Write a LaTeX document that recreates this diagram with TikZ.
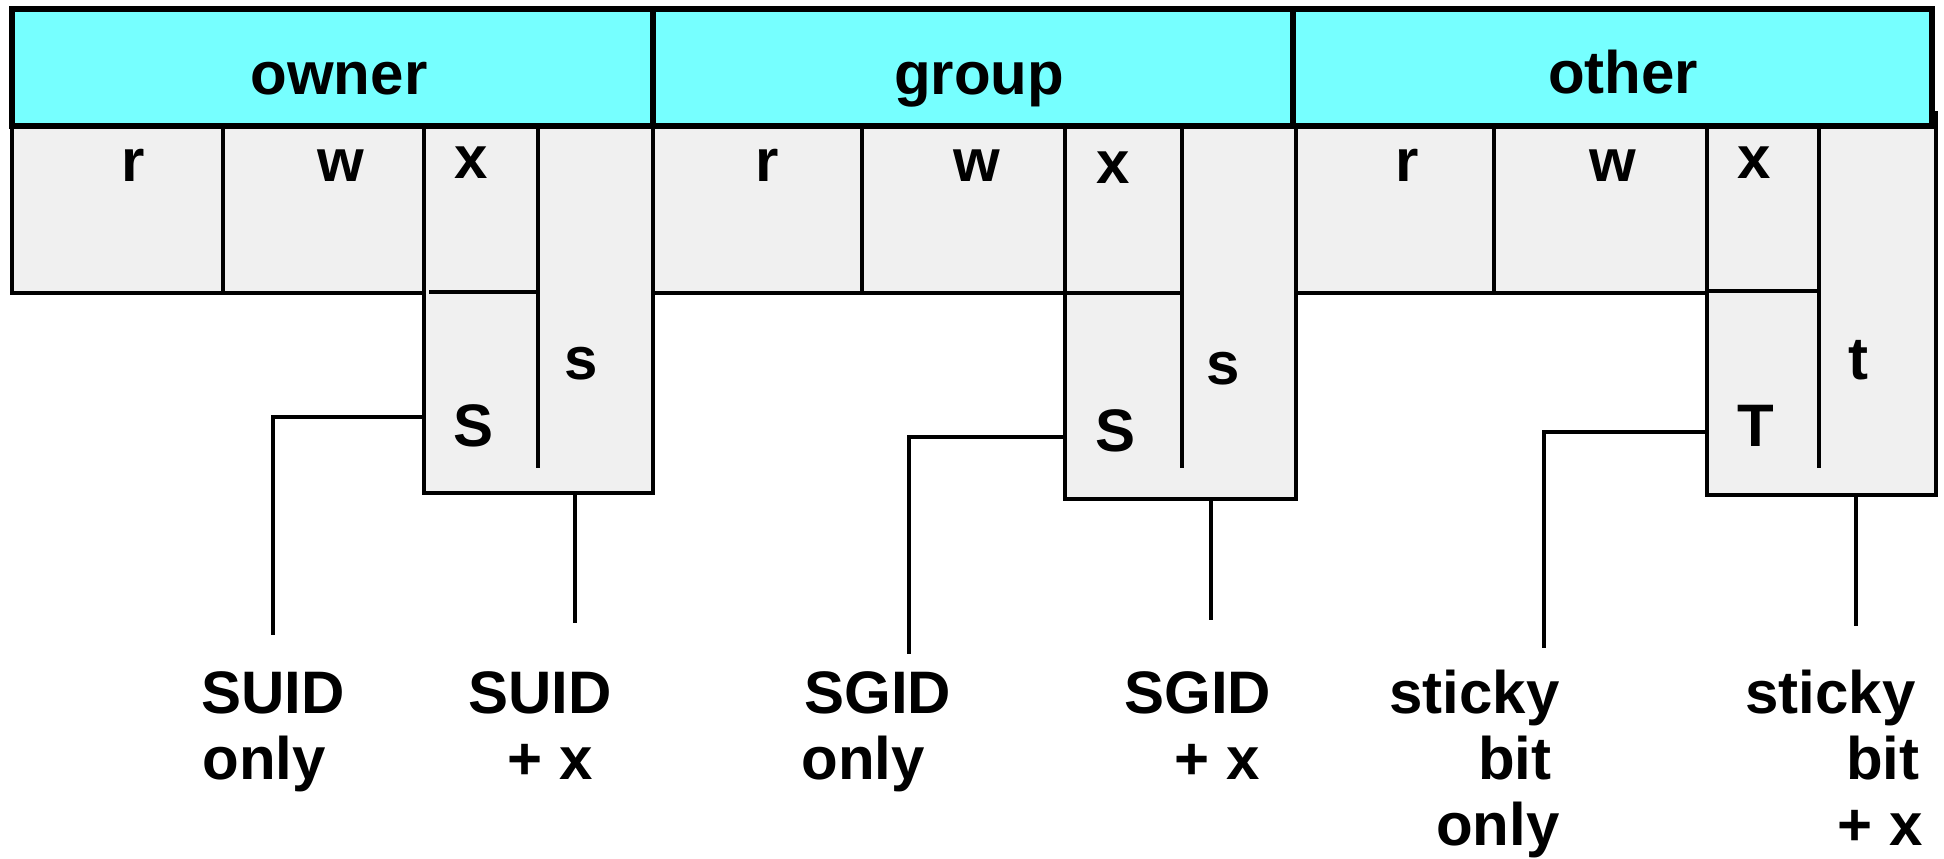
\documentclass[tikz,border=0pt]{standalone}
\usepackage{fontspec}
\setmainfont{Liberation Sans}
\definecolor{hdrcyan}{RGB}{118,255,255}
\definecolor{cellgray}{RGB}{240,240,240}
\begin{document}
\begin{tikzpicture}[x=0.5pt,y=-0.5pt,
  txt/.style={inner sep=0pt,anchor=base,font=\fontsize{30pt}{33pt}\selectfont\bfseries},
  lblw/.style={txt,anchor=base west},
  lble/.style={txt,anchor=base east},
  ln/.style={line width=2pt,line cap=rect},
  hdrline/.style={line width=3pt}]
\useasboundingbox (0,0) rectangle (1944,858);
% gray fills
\fill[cellgray] (12,126) rectangle (1936,293);
\fill[cellgray] (424,293) rectangle (653,493);
\fill[cellgray] (1065,293) rectangle (1296,499);
\fill[cellgray] (1707,293) rectangle (1936,495);
% header
\draw[hdrline,fill=hdrcyan] (12,9) rectangle (1932,126);
\draw[hdrline] (653,9) -- (653,126);
\draw[hdrline] (1293,9) -- (1293,126);
\node[txt] (hown) at (339,94) {owner};
\node[txt] (hgrp) at (979,94) {group};
\node[txt] (hoth) at (1623,93) {other};
% vertical cell lines
\draw[ln] (12,126) -- (12,293);
\draw[ln] (223,126) -- (223,293);
\draw[ln] (424,126) -- (424,493);
\draw[ln] (538,126) -- (538,466);
\draw[ln] (653,126) -- (653,493);
\draw[ln] (862,126) -- (862,293);
\draw[ln] (1065,126) -- (1065,499);
\draw[ln] (1182,126) -- (1182,466);
\draw[ln] (1296,126) -- (1296,499);
\draw[ln] (1494,126) -- (1494,293);
\draw[ln] (1707,126) -- (1707,495);
\draw[ln] (1819,126) -- (1819,466);
\draw[ln] (1936,113) -- (1936,495);
% horizontal lines
\draw[ln] (12,293) -- (424,293);
\draw[ln] (653,293) -- (1065,293);
\draw[ln] (1296,293) -- (1707,293);
\draw[ln] (424,493) -- (653,493);
\draw[ln] (1065,499) -- (1296,499);
\draw[ln] (1707,495) -- (1936,495);
\draw[ln] (431,292) -- (538,292);
\draw[ln] (1065,293) -- (1182,293);
\draw[ln] (1710,291) -- (1819,291);
% permission letters
\node[txt] (or) at (133,181) {r};
\node[txt] (ow) at (341,181) {w};
\node[txt] (ox) at (471,178) {x};
\node[txt] (oS) at (474,446) {S};
\node[txt] (os) at (581,379) {s};
\node[txt] (gr) at (767,181) {r};
\node[txt] (gw) at (977,181) {w};
\node[txt] (gx) at (1113,183) {x};
\node[txt] (gS) at (1115,451) {S};
\node[txt] (gs) at (1223,384) {s};
\node[txt] (tr) at (1407,181) {r};
\node[txt] (tw) at (1613,181) {w};
\node[txt] (tx) at (1754,178) {x};
\node[txt] (tT) at (1756,446) {T};
\node[txt] (tt) at (1858,379) {t};
% connector anchors
\coordinate (c1a) at (424,417);
\coordinate (c1b) at (273,633);
\coordinate (c2a) at (575,493);
\coordinate (c2b) at (575,621);
\coordinate (c3a) at (1065,437);
\coordinate (c3b) at (909,652);
\coordinate (c4a) at (1211,499);
\coordinate (c4b) at (1211,618);
\coordinate (c5a) at (1707,432);
\coordinate (c5b) at (1544,646);
\coordinate (c6a) at (1856,495);
\coordinate (c6b) at (1856,624);
\draw[ln] (c1a) -| (c1b);
\draw[ln] (c2a) -- (c2b);
\draw[ln] (c3a) -| (c3b);
\draw[ln] (c4a) -- (c4b);
\draw[ln] (c5a) -| (c5b);
\draw[ln] (c6a) -- (c6b);
% bottom labels
\node[lblw] (l1a) at (201,713) {SUID};
\node[lblw] (l1b) at (202,779) {only};
\node[lblw] (l2a) at (468,713) {SUID};
\node[lblw] (l2b) at (507,779) {+ x};
\node[lblw] (l3a) at (804,713) {SGID};
\node[lblw] (l3b) at (801,779) {only};
\node[lblw] (l4a) at (1124,713) {SGID};
\node[lblw] (l4b) at (1174,779) {+ x};
\node[lble] (l5a) at (1560,713) {sticky};
\node[lble] (l5b) at (1552,779) {bit};
\node[lble] (l5c) at (1560,845) {only};
\node[lble] (l6a) at (1916,713) {sticky};
\node[lble] (l6b) at (1920,779) {bit};
\node[lble] (l6c) at (1923,845) {+ x};
\end{tikzpicture}
\end{document}
